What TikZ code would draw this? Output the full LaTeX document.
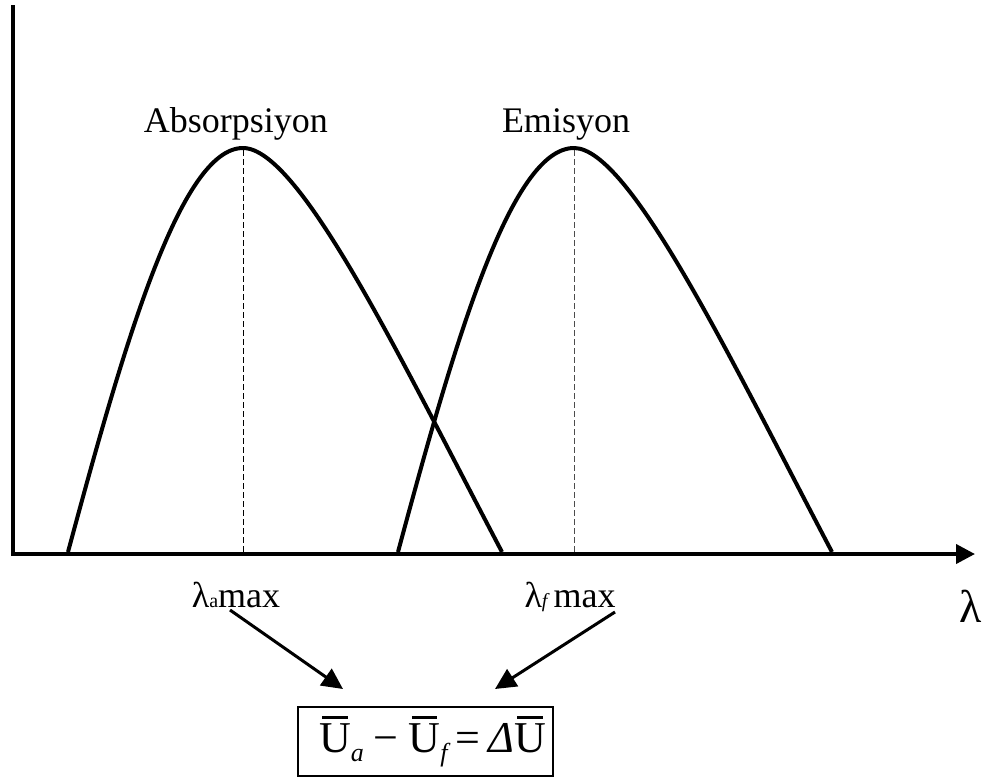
\documentclass[tikz,border=0pt]{standalone}
\usepackage{fontspec}
\setmainfont{Liberation Serif}
\usetikzlibrary{arrows.meta}
\newsavebox\obox
\newcommand\obar[1]{\sbox\obox{#1}\rlap{\hbox to \wd\obox{\hss\raisebox{\dimexpr\ht\obox+5pt\relax}{\rule{0.8\wd\obox}{2.4pt}}\hss}}\usebox\obox}
\newcommand\subsm[1]{\raisebox{-9pt}{\fontsize{26}{26}\selectfont\itshape #1}}
\tikzset{
  lbl/.style={inner sep=0pt, font=\fontsize{36}{40}\selectfont},
  curve/.style={line width=4pt, line join=round},
  axis/.style={line width=4pt, -{Triangle[length=19pt,width=19pt]}},
  peakline/.style={line width=1pt, dash pattern=on 6pt off 3pt},
  arr/.style={line width=3pt, -{Triangle[length=21pt,width=20pt]}},
  eqbox/.style={draw, line width=2pt, minimum width=255pt, minimum height=69pt, inner sep=0pt}
}
\begin{document}
\begin{tikzpicture}[x=1pt,y=-1pt]
\useasboundingbox (0,0) rectangle (997,779);
% axes
\draw[axis] (13,5) -- (13,554) -- (975,554);
% peak guide lines
\draw[peakline] (243,150) -- (243,552);
\draw[peakline, black!70] (574,150) -- (574,552);
% absorption curve
\draw[curve] (68,552) .. controls (123,348) and (180,148) .. (243,148)
  .. controls (300,148) and (402,362) .. (502,552);
% emission curve
\draw[curve] (398,552) .. controls (453,348) and (510,148) .. (574,148)
  .. controls (630,148) and (732,362) .. (832,552);
% labels
\node[lbl, anchor=base] (abs) at (236,132) {Absorpsiyon};
\node[lbl, anchor=base] (emi) at (566,132) {Emisyon};
\node[lbl, anchor=base] (la) at (236,607) {λ{\fontsize{20}{20}\selectfont a}max};
\node[lbl, anchor=base] (lf) at (570,607) {λ{\fontsize{20}{20}\selectfont\itshape f}\,max};
\node[inner sep=0pt, anchor=base, font=\fontsize{46}{50}\selectfont] (lam) at (971,622) {λ};
% equation box
\node[eqbox] (eq) at (425.5,741.5) {\fontsize{44}{48}\selectfont\hspace*{14pt}\obar{U}\subsm{a}\hspace{10pt}−\hspace{10pt}\obar{U}\subsm{f}\hspace{8pt}=\hspace{8pt}\textit{Δ}\obar{U}};
% arrows
\draw[arr] ([shift={(-6,3)}]la.base) -- ([shift={(-82.5,-17)}]eq.north);
\draw[arr] ([shift={(45,5)}]lf.base) -- ([shift={(69.5,-17)}]eq.north);
\end{tikzpicture}
\end{document}
